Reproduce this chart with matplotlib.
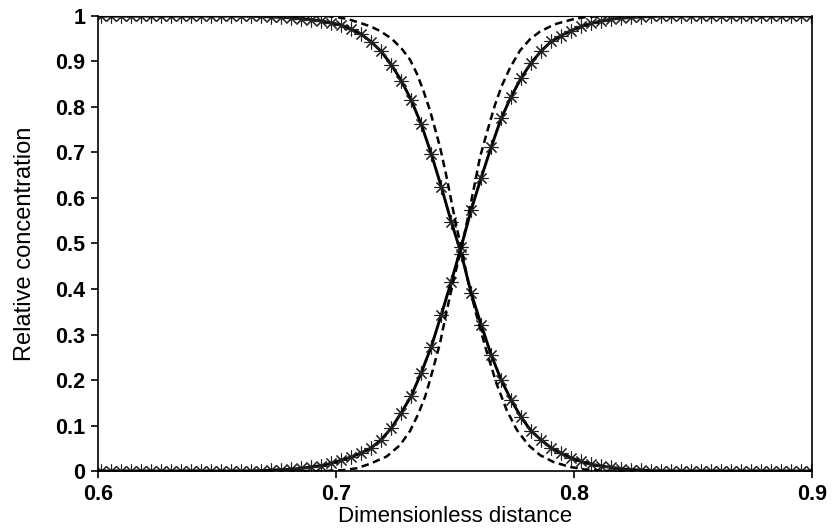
import matplotlib
matplotlib.use("Agg")
import matplotlib.pyplot as plt
import numpy as np

plt.rcParams["font.family"] = ["Liberation Sans", "DejaVu Sans"]

# sampling positions of the computed profile (asterisks)
x_start = 0.6014
x_step = 0.0042
n_points = 72

# falling front, values read at each marker position
y_falling = [
    1.0, 1.0, 1.0, 1.0, 1.0, 1.0, 1.0, 1.0, 1.0, 1.0,
    1.0, 1.0, 1.0, 1.0, 1.0, 1.0, 0.999, 0.998, 0.997, 0.996,
    0.994, 0.992, 0.989, 0.985, 0.980, 0.971, 0.960, 0.943, 0.922, 0.893,
    0.858, 0.815, 0.762, 0.697, 0.625, 0.548, 0.478, 0.391, 0.321, 0.255,
    0.200, 0.156, 0.118, 0.088, 0.068, 0.051, 0.039, 0.029, 0.021, 0.015,
    0.011, 0.008, 0.005, 0.003, 0.002, 0.001, 0.0, 0.0, 0.0, 0.0,
    0.0, 0.0, 0.0, 0.0, 0.0, 0.0, 0.0, 0.0, 0.0, 0.0,
    0.0, 0.0,
]

# rising front, values read at each marker position
y_rising = [
    0.0, 0.0, 0.0, 0.0, 0.0, 0.0, 0.0, 0.0, 0.0, 0.0,
    0.0, 0.0, 0.0, 0.0, 0.0, 0.0, 0.001, 0.002, 0.003, 0.004,
    0.006, 0.009, 0.012, 0.017, 0.024, 0.031, 0.040, 0.051, 0.069, 0.094,
    0.128, 0.165, 0.216, 0.273, 0.343, 0.416, 0.493, 0.574, 0.645, 0.712,
    0.775, 0.823, 0.864, 0.897, 0.923, 0.944, 0.957, 0.968, 0.977, 0.984,
    0.989, 0.993, 0.995, 0.997, 0.998, 0.999, 1.0, 1.0, 1.0, 1.0,
    1.0, 1.0, 1.0, 1.0, 1.0, 1.0, 1.0, 1.0, 1.0, 1.0,
    1.0, 1.0,
]

# dashed (sharper) profiles
x_dash_falling = [0.60, 0.695, 0.700, 0.705, 0.710, 0.7145, 0.7185, 0.7234, 0.7276,
                  0.7311, 0.7339, 0.7367, 0.7395, 0.7437, 0.7465, 0.750, 0.7528,
                  0.7556, 0.759, 0.7633, 0.7675, 0.7717, 0.7759, 0.7808, 0.7857,
                  0.7913, 0.7983, 0.805, 0.815, 0.90]
y_dash_falling = [1.0, 1.0, 0.998, 0.993, 0.985, 0.977, 0.967, 0.950, 0.928,
                  0.904, 0.874, 0.836, 0.792, 0.712, 0.645, 0.552, 0.486,
                  0.413, 0.343, 0.262, 0.191, 0.134, 0.091, 0.057, 0.035,
                  0.020, 0.009, 0.003, 0.0, 0.0]

x_dash_rising = [0.60, 0.695, 0.703, 0.7087, 0.7143, 0.7213, 0.7269, 0.7311, 0.7346,
                 0.7374, 0.7395, 0.7437, 0.7465, 0.7493, 0.7528, 0.7556, 0.7584,
                 0.7605, 0.764, 0.7668, 0.7696, 0.7731, 0.7773, 0.7815, 0.7855,
                 0.790, 0.7927, 0.7997, 0.8053, 0.815, 0.90]
y_dash_rising = [0.0, 0.0, 0.002, 0.006, 0.016, 0.032, 0.057, 0.088, 0.126,
                 0.163, 0.200, 0.281, 0.352, 0.418, 0.492, 0.562, 0.634,
                 0.690, 0.755, 0.805, 0.846, 0.886, 0.924, 0.949, 0.965,
                 0.977, 0.983, 0.993, 0.998, 1.0, 1.0]

x_ticks = [0.6, 0.7, 0.8, 0.9]
x_tick_labels = ["0.6", "0.7", "0.8", "0.9"]
y_ticks = [0, 0.1, 0.2, 0.3, 0.4, 0.5, 0.6, 0.7, 0.8, 0.9, 1]
y_tick_labels = ["0", "0.1", "0.2", "0.3", "0.4", "0.5", "0.6", "0.7", "0.8", "0.9", "1"]

x_marks = x_start + x_step * np.arange(n_points)

fig = plt.figure(figsize=(8.38, 5.29), dpi=100)
ax = fig.add_axes([0.117, 0.1096, 0.852, 0.8602])

star = (8, 2, 0)

for y in (y_falling, y_rising):
    ax.plot(x_marks, y, color="black", lw=2.1, solid_capstyle="butt")
    ax.plot(x_marks, y, ls="none", marker=star, ms=10, mec="#222222",
            mew=0.8, color="black")

ax.plot(x_dash_falling, y_dash_falling, color="black", lw=1.8, dashes=(3.0, 1.8))
ax.plot(x_dash_rising, y_dash_rising, color="black", lw=1.8, dashes=(3.0, 1.8))

ax.set_xlim(0.6, 0.9)
ax.set_ylim(0, 1)
ax.set_xticks(x_ticks)
ax.set_xticklabels(x_tick_labels)
ax.set_yticks(y_ticks)
ax.set_yticklabels(y_tick_labels)

ax.tick_params(direction="out", length=5, width=1.2, labelsize=15.5,
               top=False, right=False, pad=4)
for lab in ax.get_xticklabels() + ax.get_yticklabels():
    lab.set_fontweight("bold")

for side in ax.spines.values():
    side.set_linewidth(1.2)
ax.spines["top"].set_linewidth(0.8)

ax.set_xlabel("Dimensionless distance", fontsize=16, labelpad=1)
ax.set_ylabel("Relative concentration", fontsize=17, labelpad=14)

fig.savefig("out.png", dpi=100)
